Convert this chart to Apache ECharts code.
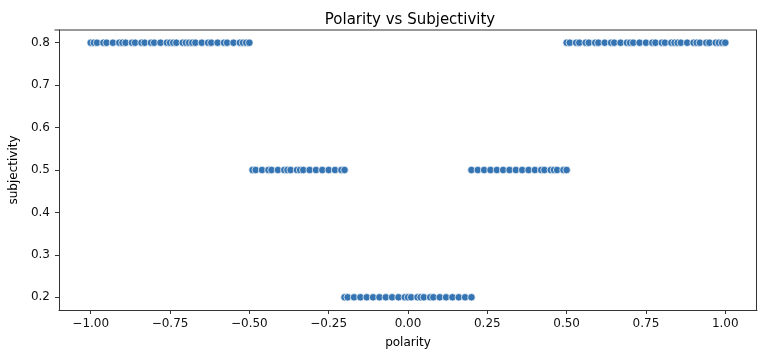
<!DOCTYPE html>
<html>
<head>
<meta charset="utf-8">
<script src="https://cdn.jsdelivr.net/npm/echarts@6/dist/echarts.min.js"></script>
<style>html,body{margin:0;padding:0;background:#fff}#c{width:765px;height:358px}</style>
</head>
<body>
<div id="c"></div>
<script>
// Data
const highNegX = [-1.0, -0.99, -0.98, -0.96, -0.95, -0.93, -0.91, -0.9, -0.89, -0.87, -0.86, -0.84, -0.83, -0.81, -0.8, -0.78, -0.76, -0.75, -0.74, -0.73, -0.71, -0.7, -0.69, -0.68, -0.67, -0.65, -0.63, -0.62, -0.6, -0.58, -0.57, -0.55, -0.53, -0.52, -0.51, -0.5];
const midNegX = [-0.49, -0.48, -0.46, -0.44, -0.43, -0.41, -0.39, -0.38, -0.37, -0.35, -0.34, -0.33, -0.31, -0.29, -0.27, -0.25, -0.23, -0.21, -0.2];
const neutralX = [-0.2, -0.19, -0.17, -0.15, -0.13, -0.11, -0.09, -0.07, -0.05, -0.03, -0.01, 0, 0.01, 0.03, 0.04, 0.05, 0.07, 0.08, 0.1, 0.12, 0.14, 0.16, 0.18, 0.2];
const midPosX = [0.2, 0.22, 0.24, 0.26, 0.28, 0.3, 0.32, 0.34, 0.36, 0.38, 0.4, 0.42, 0.43, 0.45, 0.46, 0.47, 0.49, 0.5];
const highPosX = [0.5, 0.51, 0.53, 0.54, 0.56, 0.57, 0.59, 0.6, 0.62, 0.64, 0.65, 0.67, 0.69, 0.7, 0.71, 0.73, 0.75, 0.77, 0.78, 0.8, 0.81, 0.83, 0.84, 0.85, 0.86, 0.88, 0.9, 0.91, 0.92, 0.94, 0.95, 0.97, 0.98, 0.99, 1.0];
const subjHigh = 0.8, subjMid = 0.5, subjLow = 0.2;
const xTicks = [-1.0, -0.75, -0.5, -0.25, 0.0, 0.25, 0.5, 0.75, 1.0];
const yTicks = [0.2, 0.3, 0.4, 0.5, 0.6, 0.7, 0.8];

const points = [];
highNegX.forEach(x => points.push([x, subjHigh]));
midNegX.forEach(x => points.push([x, subjMid]));
neutralX.forEach(x => points.push([x, subjLow]));
midPosX.forEach(x => points.push([x, subjMid]));
highPosX.forEach(x => points.push([x, subjHigh]));

const font = 'DejaVu Sans';
const chart = echarts.init(document.getElementById('c'), null, {renderer: 'canvas'});
chart.setOption({
  animation: false,
  title: {
    text: 'Polarity vs Subjectivity', left: 405, top: 8, textAlign: 'center',
    textStyle: {fontFamily: font, fontSize: 15, fontWeight: 'normal', color: '#000'}
  },
  grid: {left: 54, right: 8, top: 30, bottom: 48, containLabel: false},
  xAxis: {
    type: 'value', min: -1.1, max: 1.1,
    name: 'polarity', nameLocation: 'middle', nameGap: 27,
    nameTextStyle: {fontFamily: font, fontSize: 12, color: '#000'},
    axisLine: {show: true, onZero: false, lineStyle: {color: '#333', width: 1}},
    axisTick: {show: true, length: 4, customValues: xTicks, lineStyle: {color: '#333'}},
    axisLabel: {customValues: xTicks, fontFamily: font, fontSize: 12, color: '#111', margin: 8,
      formatter: v => (v < 0 ? '\u2212' : '') + Math.abs(v).toFixed(2)},
    splitLine: {show: false}
  },
  yAxis: {
    type: 'value', min: 0.17, max: 0.83,
    name: 'subjectivity', nameLocation: 'middle', nameGap: 38, nameRotate: 90,
    nameTextStyle: {fontFamily: font, fontSize: 12, color: '#000'},
    axisLine: {show: true, onZero: false, lineStyle: {color: '#333', width: 1}},
    axisTick: {show: true, length: 4, customValues: yTicks, lineStyle: {color: '#333'}},
    axisLabel: {customValues: yTicks, fontFamily: font, fontSize: 12, color: '#111', margin: 9,
      formatter: v => v.toFixed(1)},
    splitLine: {show: false}
  },
  series: [{
    type: 'scatter',
    data: points,
    symbol: 'circle',
    symbolSize: 7.5,
    itemStyle: {color: '#3574b2', borderColor: '#ffffff', borderWidth: 0.7, opacity: 1}
  }],
  graphic: [
    {type: 'line', shape: {x1: 54.5, y1: 30, x2: 757, y2: 30}, style: {stroke: '#333', lineWidth: 1}},
    {type: 'line', shape: {x1: 756.5, y1: 30, x2: 756.5, y2: 310}, style: {stroke: '#333', lineWidth: 1}}
  ]
});
</script>
</body>
</html>
